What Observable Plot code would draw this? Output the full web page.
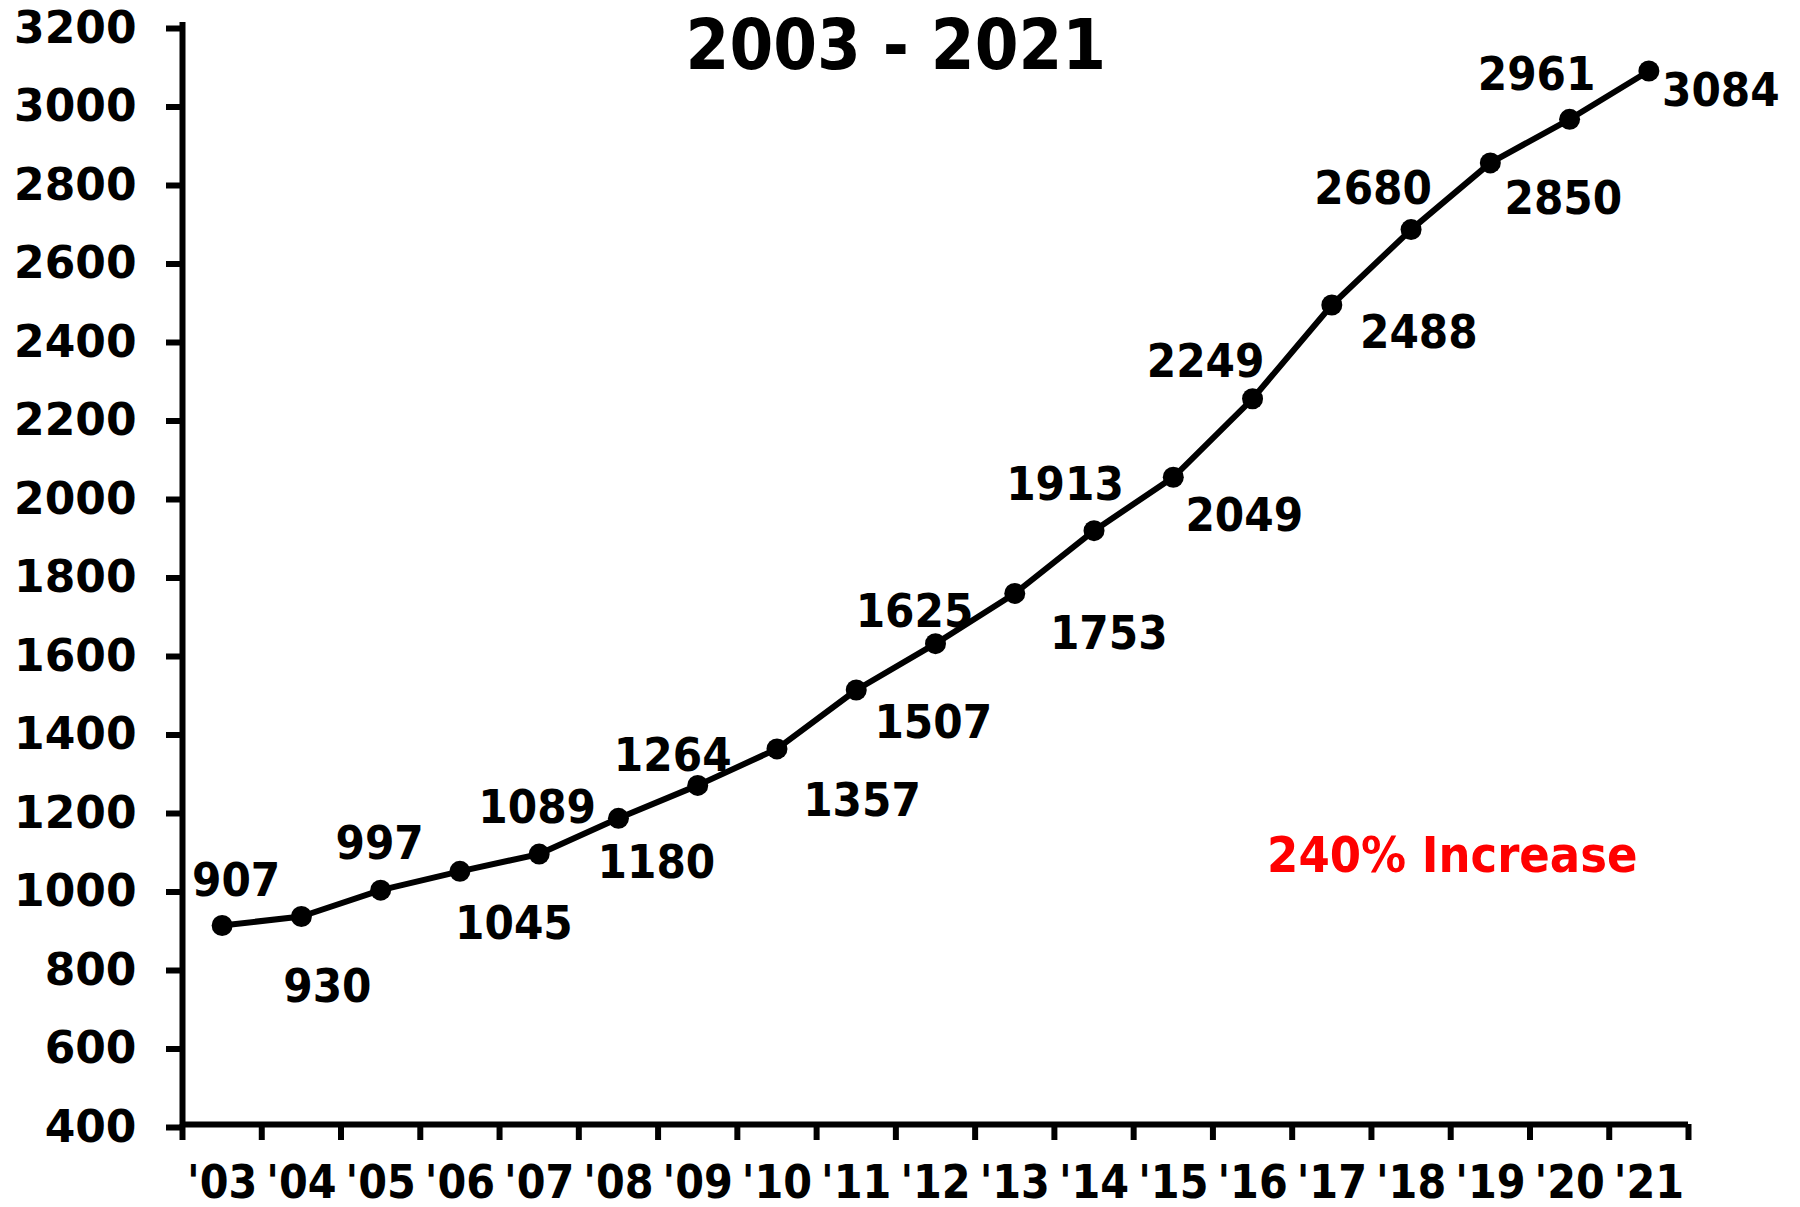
<!DOCTYPE html>
<html>
<head>
<meta charset="utf-8">
<script src="https://cdn.jsdelivr.net/npm/d3@7"></script>
<script src="https://cdn.jsdelivr.net/npm/@observablehq/plot@0.6"></script>
<style>
  html, body { margin: 0; padding: 0; background: #ffffff; }
  #chart svg { display: block; }
</style>
</head>
<body>
<div id="chart"></div>
<script>
// ---- data ----
const years = [2003, 2004, 2005, 2006, 2007, 2008, 2009, 2010, 2011, 2012, 2013, 2014, 2015, 2016, 2017, 2018, 2019, 2020, 2021];
const yearLabels = ["'03", "'04", "'05", "'06", "'07", "'08", "'09", "'10", "'11", "'12", "'13", "'14", "'15", "'16", "'17", "'18", "'19", "'20", "'21"];
const values = [907, 930, 997, 1045, 1089, 1180, 1264, 1357, 1507, 1625, 1753, 1913, 2049, 2249, 2488, 2680, 2850, 2961, 3084];
const yTicks = [400, 600, 800, 1000, 1200, 1400, 1600, 1800, 2000, 2200, 2400, 2600, 2800, 3000, 3200];
const titleText = "2003 - 2021";
const noteText = "240% Increase";

// label nudges (pixels) for each value label
const labelDx = [14, 26, -1, 54, -2, 38, -25, 85, 77, -21, 94, -29, 71, -47, 87, -38, 73, -33, 72];
const labelDy = [-45, 70, -46, 53, -46, 45, -29, 52, 33, -32, 41, -46, 39, -37, 28, -41, 36, -44, 20];

const rows = years.map((year, i) => ({year, value: values[i], label: String(values[i]), dx: labelDx[i], dy: labelDy[i]}));
const boundaries = years.map(y => y - 0.5).concat([years[years.length - 1] + 0.5]);
const xMin = boundaries[0], xMax = boundaries[boundaries.length - 1];

const condensed = "'DejaVu Sans Condensed', 'DejaVu Sans', sans-serif";
const wide = "'DejaVu Sans', sans-serif";

const chart = Plot.plot({
  width: 1800,
  height: 1207,
  marginLeft: 182,
  marginRight: 112,
  marginTop: 25,
  marginBottom: 83,
  style: {background: "#ffffff", color: "#000000", overflow: "visible"},
  x: {domain: [xMin, xMax]},
  y: {domain: [yTicks[0], yTicks[yTicks.length - 1]]},
  marks: [
    // y axis ticks + labels
    Plot.axisY(yTicks, {
      label: null, tickFormat: d => String(d),
      tickSize: 16, tickPadding: 30, strokeWidth: 6,
      fontSize: 44, fontWeight: "bold", fontFamily: wide, fill: "#000", dy: 3
    }),
    // x axis boundary ticks (no labels)
    Plot.axisX(boundaries, {label: null, tickSize: 16, strokeWidth: 6, tickFormat: () => ""}),
    // x axis labels centered in each year
    Plot.axisX(years, {
      label: null, tickSize: 0, tickPadding: 41, tickFormat: (d) => yearLabels[years.indexOf(d)],
      fontSize: 46, fontWeight: "bold", fontFamily: condensed, fill: "#000"
    }),
    // axis lines
    Plot.ruleX([xMin], {y1: yTicks[0], y2: yTicks[yTicks.length - 1], stroke: "#000", strokeWidth: 6, strokeLinecap: "square"}),
    Plot.ruleY([yTicks[0]], {x1: xMin, x2: xMax, stroke: "#000", strokeWidth: 6}),
    // series
    Plot.line(rows, {x: "year", y: "value", stroke: "#000", strokeWidth: 6}),
    Plot.dot(rows, {x: "year", y: "value", r: 10.5, fill: "#000", stroke: "none"}),
    // value labels
    ...rows.map(d => Plot.text([d], {
      x: "year", y: "value", text: "label", dx: d.dx, dy: d.dy,
      fontSize: 47, fontWeight: "bold", fontFamily: condensed, fill: "#000"
    })),
    // title
    Plot.text([titleText], {
      x: 2011.5, y: 3146, text: d => d,
      fontSize: 70, fontWeight: "bold", fontFamily: condensed, fill: "#000"
    }),
    // annotation
    Plot.text([noteText], {
      x: 2018.52, y: 1083, text: d => d,
      fontSize: 50, fontWeight: "bold", fontFamily: condensed, fill: "#ff0000"
    })
  ]
});
document.getElementById("chart").appendChild(chart);
</script>
</body>
</html>
